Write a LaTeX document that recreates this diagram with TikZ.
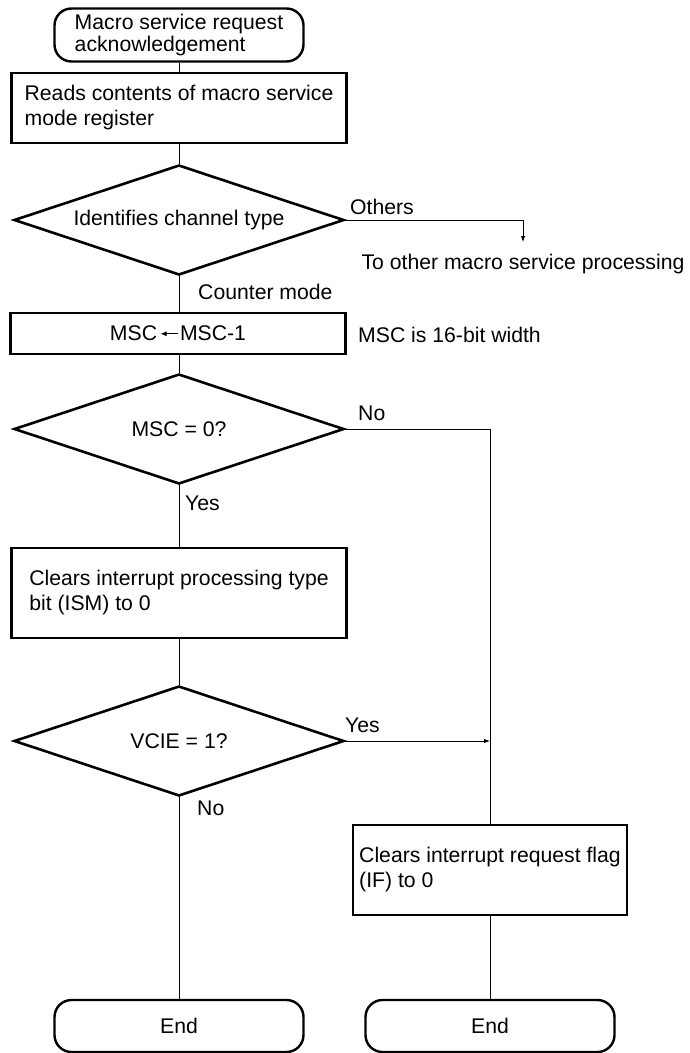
\documentclass[tikz,border=0pt]{standalone}
\usepackage{fontspec}
\setmainfont{Liberation Sans}
\usetikzlibrary{shapes.geometric, arrows.meta, positioning}
\tikzset{>={Latex[length=6pt,width=4.5pt]}}
\tikzset{
  term/.style={draw, line width=2.4pt, rounded corners=17pt, minimum width=249pt, minimum height=53pt, align=left},
  proc/.style={draw, line width=2.6pt, minimum width=335pt, align=left},
  decide/.style={draw, diamond, line width=2.6pt, aspect=3, minimum width=330pt, minimum height=110pt, inner sep=0pt},
  note/.style={inner sep=0pt, anchor=west},
  flow/.style={line width=0.9pt}
}
% small assignment arrow used inside text
\newcommand{\getsarrow}{\tikz[baseline=-7pt]\draw[line width=1pt, -{Latex[length=6pt,width=5pt]}] (17pt,0) -- (0,0);}

\begin{document}
\begin{tikzpicture}[x=1pt, y=-1pt, font=\fontsize{21.2}{25}\selectfont]
\useasboundingbox (0,0) rectangle (689,1053);
% left column
\node[term, font=\fontsize{21.2}{22}\selectfont] (start) at (179,35) {Macro service request\\acknowledgement};
\node[proc, minimum height=70pt] (read) at (179,108) {Reads contents of macro service\\mode register};
\node[decide] (type) at (179,220) {Identifies channel type};
\node[proc, minimum height=41pt] (msc) at (178,333.5) {MSC\kern3pt\getsarrow\kern2pt MSC-1};
\node[decide] (msczero) at (179,429) {MSC = 0?};
\node[proc, minimum height=90pt] (ism) at (179,593) {Clears interrupt processing type\\bit (ISM) to 0};
\node[decide] (vcie) at (179,741) {VCIE = 1?};
\node[term, minimum height=52pt] (endl) at (179,1026) {End};
% right column
\node[proc, minimum width=274pt, minimum height=90pt] (flag) at (490,870) {Clears interrupt request flag\\(IF) to 0};
\node[term, minimum height=52pt] (endr) at (490,1026) {End};

\node[note] (others) at (350,207) {Others};
\coordinate (toother) at (523,242);
\node[below=12pt of toother, inner sep=0pt] (other) {To other macro service processing};
\node[note] (counter) at (198,292) {Counter mode};
\node[note] (width) at (358,335) {MSC is 16-bit width};
\node[note] (no1) at (358,413) {No};
\node[note] (yes1) at (185,503) {Yes};
\node[note] (yes2) at (345,725) {Yes};
\node[note] (no2) at (197,808) {No};

\draw[flow] (start) -- (read);
\draw[flow] (read) -- (type);
\draw[flow, ->] (type.east) -| (toother);
\draw[flow] (type.south) -- (type.south |- msc.north);
\draw[flow] (msc.south -| msczero.north) -- (msczero.north);
\draw[flow] (msczero) -- (ism);
\draw[flow] (msczero.east) -| (flag.north);
\draw[flow] (ism) -- (vcie);
\draw[flow, ->] (vcie.east) -- (vcie.east -| flag.north);
\draw[flow] (vcie) -- (endl);
\draw[flow] (flag) -- (endr);
\end{tikzpicture}
\end{document}
